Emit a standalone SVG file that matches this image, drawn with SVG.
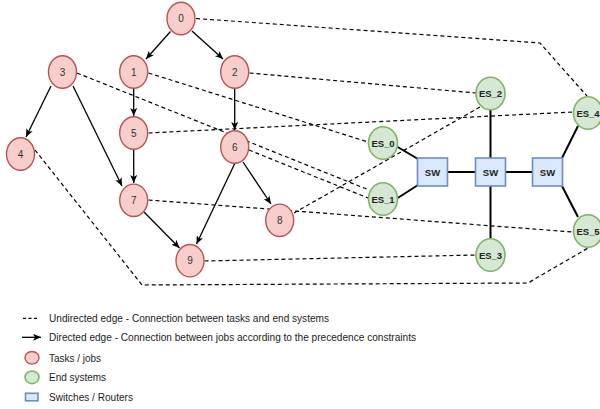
<svg xmlns="http://www.w3.org/2000/svg" width="600" height="409" viewBox="0 0 600 409">
<style>
.task{fill:#f8cecc;stroke:#b85450;stroke-width:1.4}
.es{fill:#d5e8d4;stroke:#82b366;stroke-width:1.6}
.sw{fill:#dae8fc;stroke:#6c8ebf;stroke-width:1.6}
.lbl{font-family:"Liberation Sans",Arial,sans-serif;font-size:10px;fill:#333;text-anchor:middle}
.eslbl{font-family:"Liberation Sans",Arial,sans-serif;font-size:9.5px;font-weight:bold;fill:#222;text-anchor:middle}
.dir{stroke:#000;stroke-width:1.3;fill:none;marker-end:url(#arr)}
.und{stroke:#000;stroke-width:1.2;fill:none;stroke-dasharray:4 3}
.sol{stroke:#000;stroke-width:2;fill:none}
.leg{font-family:"Liberation Sans",Arial,sans-serif;font-size:11.5px;fill:#222}
</style>
<defs>
<marker id="arr" markerUnits="userSpaceOnUse" markerWidth="9" markerHeight="7" refX="8" refY="3.5" orient="auto">
<path d="M0,0 L8,3.5 L0,7 L2,3.5 z" fill="#000"/>
</marker>
</defs>
<g id="connectors">
<line class="dir" x1="170.5" y1="31.5" x2="146" y2="59"/>
<line class="dir" x1="192" y1="31" x2="223" y2="59"/>
<line class="dir" x1="133.7" y1="89" x2="133.7" y2="116"/>
<line class="dir" x1="234.7" y1="89" x2="234.7" y2="130"/>
<line class="dir" x1="51" y1="86" x2="26" y2="137"/>
<line class="dir" x1="73" y1="86" x2="122" y2="186"/>
<line class="dir" x1="133.7" y1="150" x2="133.7" y2="183"/>
<line class="dir" x1="235" y1="163" x2="196.5" y2="244"/>
<line class="dir" x1="243" y1="162" x2="271" y2="204"/>
<line class="dir" x1="144" y1="212" x2="179.5" y2="248"/>
<polyline class="und" points="196,18.5 540,43 587,96"/>
<line class="und" x1="148.5" y1="73" x2="368" y2="142"/>
<line class="und" x1="249.5" y1="73" x2="476" y2="93"/>
<line class="und" x1="77" y1="73" x2="369" y2="190"/>
<line class="und" x1="148.5" y1="133" x2="573" y2="112"/>
<line class="und" x1="249" y1="150" x2="368" y2="198"/>
<line class="und" x1="148.5" y1="200" x2="573" y2="232"/>
<line class="und" x1="294" y1="213" x2="480" y2="107"/>
<line class="und" x1="204.5" y1="261" x2="477" y2="255"/>
<polyline class="und" points="35,150 142,285 528,283 588,248"/>
<line class="sol" x1="397.7" y1="147" x2="418" y2="159"/>
<line class="sol" x1="397.7" y1="198" x2="418" y2="185"/>
<line class="sol" x1="448" y1="172" x2="475" y2="172"/>
<line class="sol" x1="505" y1="172" x2="532" y2="172"/>
<line class="sol" x1="490.5" y1="110" x2="490.5" y2="158"/>
<line class="sol" x1="490.5" y1="186" x2="490.5" y2="238"/>
<line class="sol" x1="562" y1="158" x2="578" y2="126"/>
<line class="sol" x1="562" y1="186" x2="578" y2="217"/>
</g>
<g id="n0"><ellipse class="task" cx="181" cy="18.5" rx="14" ry="16.2"/><text class="lbl" x="181" y="22">0</text></g>
<g id="n1"><ellipse class="task" cx="133.7" cy="72" rx="14" ry="16.2"/><text class="lbl" x="133.7" y="75.5">1</text></g>
<g id="n2"><ellipse class="task" cx="234.7" cy="72" rx="14" ry="16.2"/><text class="lbl" x="234.7" y="75.5">2</text></g>
<g id="n3"><ellipse class="task" cx="62.5" cy="72" rx="14" ry="16.2"/><text class="lbl" x="62.5" y="75.5">3</text></g>
<g id="n4"><ellipse class="task" cx="20.5" cy="154" rx="14" ry="16.2"/><text class="lbl" x="20.5" y="157.5">4</text></g>
<g id="n5"><ellipse class="task" cx="133.7" cy="133" rx="14" ry="16.2"/><text class="lbl" x="133.7" y="136.5">5</text></g>
<g id="n6"><ellipse class="task" cx="234.7" cy="147" rx="14" ry="16.2"/><text class="lbl" x="234.7" y="150.5">6</text></g>
<g id="n7"><ellipse class="task" cx="133.7" cy="200.3" rx="14" ry="16.2"/><text class="lbl" x="133.7" y="203.8">7</text></g>
<g id="n8"><ellipse class="task" cx="279.7" cy="220.3" rx="14" ry="16.2"/><text class="lbl" x="279.7" y="223.8">8</text></g>
<g id="n9"><ellipse class="task" cx="190" cy="260.7" rx="14" ry="16.2"/><text class="lbl" x="190" y="264.2">9</text></g>
<g id="es0"><ellipse class="es" cx="383" cy="143" rx="14.5" ry="16.3"/><text class="eslbl" x="383" y="146.5">ES_0</text></g>
<g id="es1"><ellipse class="es" cx="383" cy="199" rx="14.5" ry="16.3"/><text class="eslbl" x="383" y="202.5">ES_1</text></g>
<g id="es2"><ellipse class="es" cx="490.5" cy="93.5" rx="14.5" ry="16.3"/><text class="eslbl" x="490.5" y="97">ES_2</text></g>
<g id="es3"><ellipse class="es" cx="490.5" cy="255" rx="14.5" ry="16.3"/><text class="eslbl" x="490.5" y="258.5">ES_3</text></g>
<g id="es4"><ellipse class="es" cx="588" cy="113" rx="14.5" ry="16.3"/><text class="eslbl" x="588" y="116.5">ES_4</text></g>
<g id="es5"><ellipse class="es" cx="588" cy="231" rx="14.5" ry="16.3"/><text class="eslbl" x="588" y="234.5">ES_5</text></g>
<g id="sw1"><rect class="sw" x="417.5" y="158" width="30" height="28"/><text class="eslbl" x="432.5" y="175.5">SW</text></g>
<g id="sw2"><rect class="sw" x="475.5" y="158" width="30" height="28"/><text class="eslbl" x="490.5" y="175.5">SW</text></g>
<g id="sw3"><rect class="sw" x="532.5" y="158" width="30" height="28"/><text class="eslbl" x="547.5" y="175.5">SW</text></g>
<g id="legend">
<line x1="23" y1="318.3" x2="37" y2="318.3" stroke="#000" stroke-width="1.2" stroke-dasharray="3 2.5"/>
<line class="dir" x1="22" y1="337.3" x2="41" y2="337.3"/>
<ellipse class="task" cx="32" cy="357.8" rx="7" ry="6.3"/>
<ellipse class="es" cx="32" cy="377.3" rx="7" ry="6.3"/>
<rect class="sw" x="25.5" y="393.3" width="12.5" height="7.5"/>
<text class="leg" x="49" y="322.3" textLength="280" lengthAdjust="spacingAndGlyphs">Undirected edge - Connection between tasks and end systems</text>
<text class="leg" x="49" y="341.3" textLength="367" lengthAdjust="spacingAndGlyphs">Directed edge - Connection between jobs according to the precedence constraints</text>
<text class="leg" x="49" y="361.5" textLength="52" lengthAdjust="spacingAndGlyphs">Tasks / jobs</text>
<text class="leg" x="49" y="381" textLength="57" lengthAdjust="spacingAndGlyphs">End systems</text>
<text class="leg" x="49" y="400.5" textLength="84" lengthAdjust="spacingAndGlyphs">Switches / Routers</text>
</g>
</svg>
